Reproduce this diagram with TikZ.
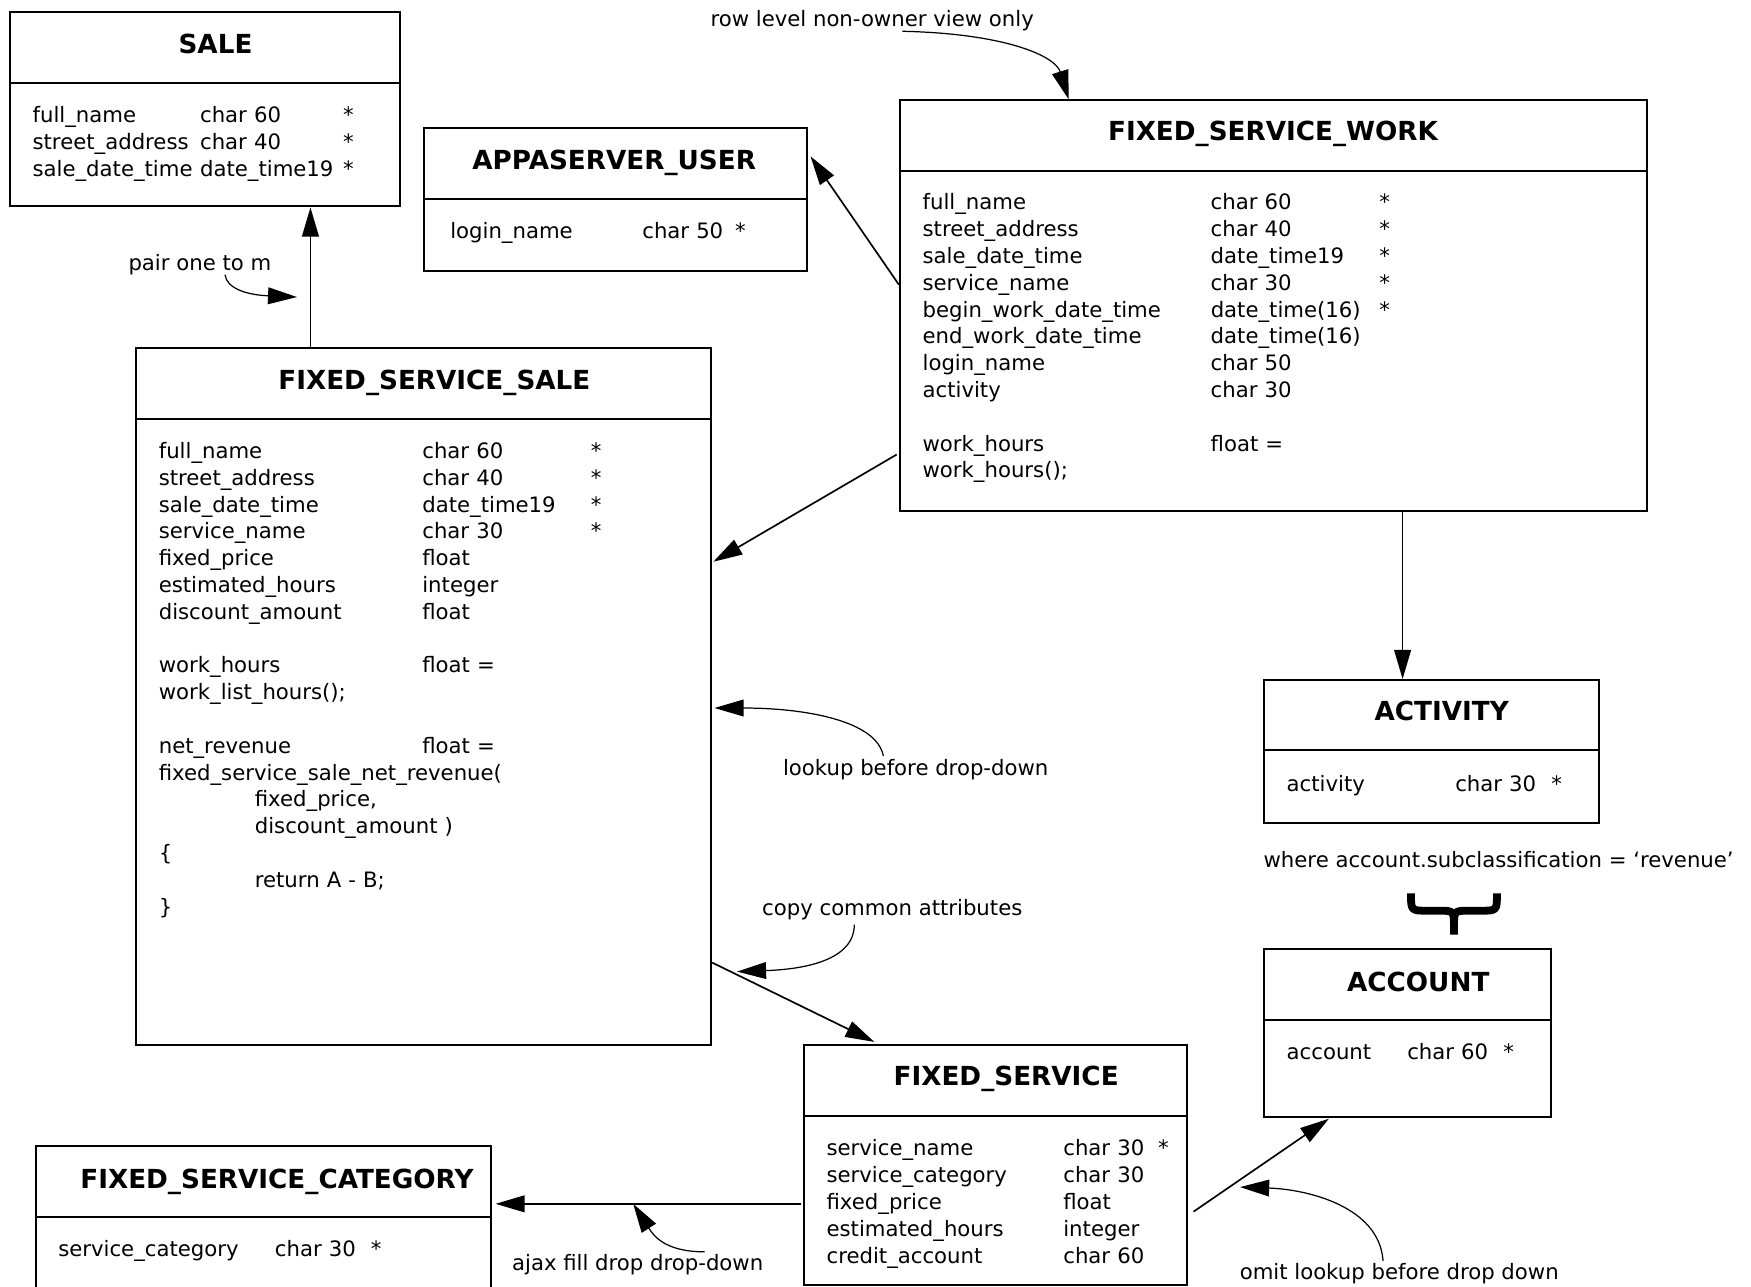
\documentclass[tikz,border=0pt]{standalone}
\usepackage{fontspec}
\setmainfont{DejaVu Sans}
\usetikzlibrary{arrows.meta,calc}
\newcommand\ERrow[5]{\makebox[#1pt][l]{#3}\makebox[#2pt][l]{#4}#5}
\begin{document}
\begin{tikzpicture}[x=1pt,y=-1pt,
  box/.style={draw, line width=1.8pt, anchor=north west, inner sep=0pt},
  divider/.style={line width=1.8pt},
  ttl/.style={font=\bfseries\fontsize{23.5}{28}\selectfont, anchor=base, inner sep=0pt},
  body/.style={font=\fontsize{19}{24}\selectfont, anchor=base west, inner sep=0pt, text width=600pt, align=left},
  lbl/.style={font=\fontsize{19}{24}\selectfont, anchor=base, inner sep=0pt},
  conn/.style={line width=1.5pt, -{Triangle[length=26pt,width=15pt]}},
  note/.style={line width=1.1pt, -{Triangle[length=26pt,width=15pt]}},
  bracestyle/.style={line width=7pt, line join=round},
]
\useasboundingbox (0,0) rectangle (1568,1152);
\clip (0,0) rectangle (1568,1152);

% ---------- boxes ----------
\node[box, minimum width=349pt, minimum height=174pt] (sale) at (8,10) {};
\draw[divider] ([yshift=-64pt]sale.north west) -- ([yshift=-64pt]sale.north east);
\node[ttl] (sale-t) at (193,47.5) {SALE};
\node[body] (sale-b) at (29,110) {%
\ERrow{150}{128}{full\_name}{char 60}{*}\\
\ERrow{150}{128}{street\_address}{char 40}{*}\\
\ERrow{150}{128}{sale\_date\_time}{date\_time19}{*}};

\node[box, minimum width=343pt, minimum height=128pt] (appa) at (379,114) {};
\draw[divider] ([yshift=-64pt]appa.north west) -- ([yshift=-64pt]appa.north east);
\node[ttl] (appa-t) at (550,151.5) {APPASERVER\_USER};
\node[body] (appa-b) at (403,214) {\ERrow{172}{83}{login\_name}{char 50}{*}};

\node[box, minimum width=669pt, minimum height=368pt] (fsw) at (805,89) {};
\draw[divider] ([yshift=-64pt]fsw.north west) -- ([yshift=-64pt]fsw.north east);
\node[ttl] (fsw-t) at (1140,125.5) {FIXED\_SERVICE\_WORK};
\node[body] (fsw-b) at (826,188) {%
\ERrow{258}{151}{full\_name}{char 60}{*}\\
\ERrow{258}{151}{street\_address}{char 40}{*}\\
\ERrow{258}{151}{sale\_date\_time}{date\_time19}{*}\\
\ERrow{258}{151}{service\_name}{char 30}{*}\\
\ERrow{258}{151}{begin\_work\_date\_time}{date\_time(16)}{*}\\
\ERrow{258}{151}{end\_work\_date\_time}{date\_time(16)}{}\\
\ERrow{258}{151}{login\_name}{char 50}{}\\
\ERrow{258}{151}{activity}{char 30}{}\\
\mbox{}\\
\ERrow{258}{151}{work\_hours}{float =}{}\\
work\_hours();};

\node[box, minimum width=515pt, minimum height=624pt] (fss) at (121,311) {};
\draw[divider] ([yshift=-64pt]fss.north west) -- ([yshift=-64pt]fss.north east);
\node[ttl] (fss-t) at (389,348.5) {FIXED\_SERVICE\_SALE};
\node[body] (fss-b) at (142,410.5) {%
\ERrow{236}{151}{full\_name}{char 60}{*}\\
\ERrow{236}{151}{street\_address}{char 40}{*}\\
\ERrow{236}{151}{sale\_date\_time}{date\_time19}{*}\\
\ERrow{236}{151}{service\_name}{char 30}{*}\\
\ERrow{236}{151}{fixed\_price}{float}{}\\
\ERrow{236}{151}{estimated\_hours}{integer}{}\\
\ERrow{236}{151}{discount\_amount}{float}{}\\
\mbox{}\\
\ERrow{236}{151}{work\_hours}{float =}{}\\
work\_list\_hours();\\
\mbox{}\\
\ERrow{236}{151}{net\_revenue}{float =}{}\\
fixed\_service\_sale\_net\_revenue(\\
\hspace*{86pt}fixed\_price,\\
\hspace*{86pt}discount\_amount )\\
\{\\
\hspace*{86pt}return A - B;\\
\}};

\node[box, minimum width=300pt, minimum height=128pt] (act) at (1131,608) {};
\draw[divider] ([yshift=-64pt]act.north west) -- ([yshift=-64pt]act.north east);
\node[ttl] (act-t) at (1291,645.5) {ACTIVITY};
\node[body] (act-b) at (1152,709) {\ERrow{151}{86}{activity}{char 30}{*}};

\node[box, minimum width=257pt, minimum height=150pt] (acc) at (1131,849) {};
\draw[divider] ([yshift=-64pt]acc.north west) -- ([yshift=-64pt]acc.north east);
\node[ttl] (acc-t) at (1270,887.5) {ACCOUNT};
\node[body] (acc-b) at (1152,949) {\ERrow{108}{86}{account}{char 60}{*}};

\node[box, minimum width=343pt, minimum height=215pt] (fs) at (719,935) {};
\draw[divider] ([yshift=-64pt]fs.north west) -- ([yshift=-64pt]fs.north east);
\node[ttl] (fs-t) at (901,972) {FIXED\_SERVICE};
\node[body] (fs-b) at (740,1035) {%
\ERrow{212}{85}{service\_name}{char 30}{*}\\
\ERrow{212}{85}{service\_category}{char 30}{}\\
\ERrow{212}{85}{fixed\_price}{float}{}\\
\ERrow{212}{85}{estimated\_hours}{integer}{}\\
\ERrow{212}{85}{credit\_account}{char 60}{}};

\node[box, minimum width=408pt, minimum height=200pt] (fsc) at (31,1025) {};
\draw[divider] ([yshift=-65pt]fsc.north west) -- ([yshift=-65pt]fsc.north east);
\node[ttl] (fsc-t) at (248,1064) {FIXED\_SERVICE\_CATEGORY};
\node[body] (fsc-b) at (52,1125) {\ERrow{194}{86}{service\_category}{char 30}{*}};

% ---------- labels ----------
\node[lbl] (l-row) at (781,24) {row level non-owner view only};
\node[lbl] (l-pair) at (179,242.5) {pair one to m};
\node[lbl] (l-lookup) at (820,694) {lookup before drop-down};
\node[lbl] (l-copy) at (799,820) {copy common attributes};
\node[lbl] (l-where) at (1342,777) {where account.subclassification = ‘revenue’};
\node[lbl] (l-ajax) at (571,1138) {ajax fill drop drop-down};
\node[lbl] (l-omit) at (1253,1146) {omit lookup before drop down};

% brace
\draw[bracestyle] (1263.5,800) .. controls (1263.5,815.5) .. (1278,815.5) -- (1288,815.5) .. controls (1302,815.5) .. (1302,830) -- (1302,837);
\draw[bracestyle] (1340.5,800) .. controls (1340.5,815.5) .. (1326,815.5) -- (1316,815.5) .. controls (1302,815.5) .. (1302,830);

% ---------- straight connectors ----------
\draw[conn] ([xshift=157pt]fss.north west) -- ([xshift=270pt]sale.south west);
\draw[conn] ([yshift=-166pt]fsw.north west) -- ([xshift=2pt,yshift=-26pt]appa.north east);
\draw[conn] ([xshift=-2pt,yshift=-318pt]fsw.north west) -- ([xshift=1pt,yshift=-192pt]fss.north east);
\draw[conn] ([xshift=451pt]fsw.south west) -- ([xshift=125pt]act.north west);
\draw[conn] ([yshift=-551pt]fss.north east) -- ([xshift=64pt,yshift=2pt]fs.north west);
\draw[conn] ([xshift=-2pt,yshift=-143pt]fs.north west) -- ([xshift=3pt,yshift=-53pt]fsc.north east);
\draw[conn] ([xshift=5pt,yshift=-150pt]fs.north east) -- ([xshift=59pt,yshift=-1pt]acc.south west);

% ---------- annotation curves ----------
\coordinate (h0) at (808,28);
\draw[note] (h0) .. controls (900,30) and (945,50) .. ([xshift=152pt]fsw.north west);
\coordinate (i0) at (201.5,246);
\coordinate (i1) at (266,266);
\draw[note] (i0) .. controls (203,258) and (220,264) .. (i1);
\coordinate (j0) at (791,677);
\draw[note] (j0) .. controls (785,645) and (720,634) .. ([xshift=2pt,yshift=-323pt]fss.north east);
\coordinate (k0) at (765,828);
\coordinate (k1) at (660,870);
\draw[note] (k0) .. controls (765,860) and (720,868) .. (k1);
\coordinate (l0) at (631,1121);
\coordinate (l1) at (567,1078);
\draw[note] (l0) .. controls (595,1121) and (585,1106) .. (l1);
\coordinate (m0) at (1238.5,1129);
\coordinate (m1) at (1110.5,1063);
\draw[note] (m0) .. controls (1235,1080) and (1170,1065) .. (m1);
\end{tikzpicture}
\end{document}
